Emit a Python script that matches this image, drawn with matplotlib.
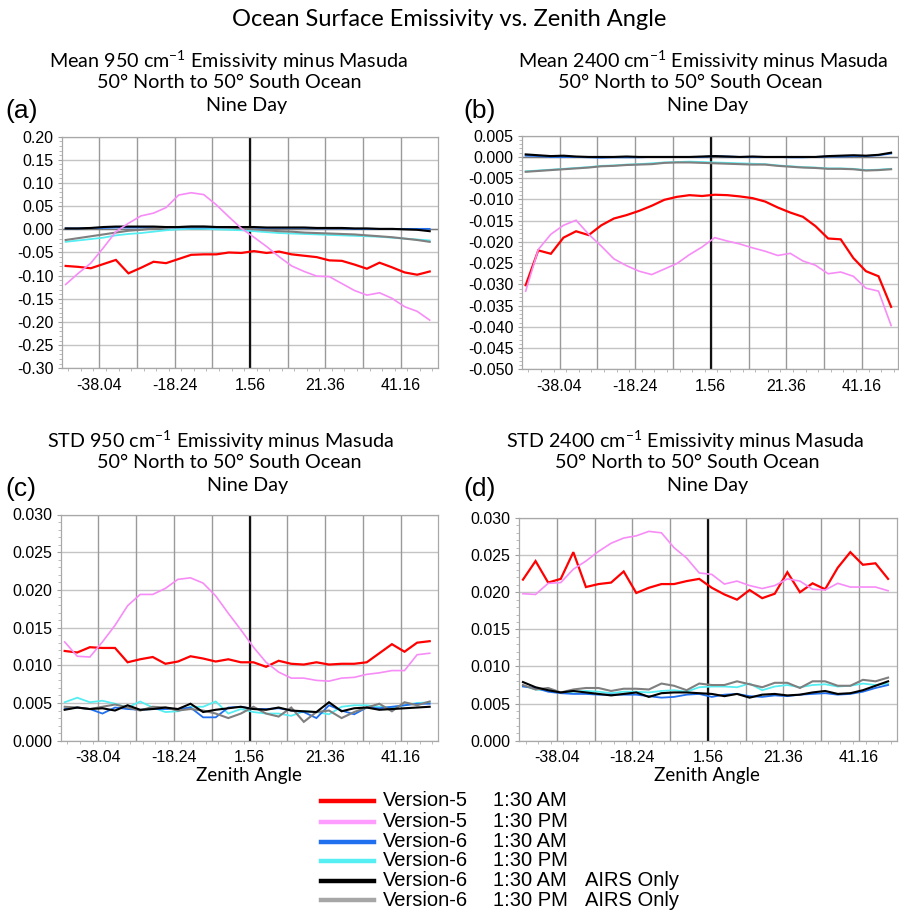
import numpy as np
import matplotlib
matplotlib.use("Agg")
import matplotlib.pyplot as plt
from matplotlib.lines import Line2D
from matplotlib.ticker import FixedLocator, MultipleLocator, FormatStrFormatter, NullFormatter

plt.rcParams['font.family'] = ['Liberation Sans', 'DejaVu Sans']
plt.rcParams['axes.unicode_minus'] = False
plt.rcParams['mathtext.fontset'] = 'custom'
plt.rcParams['mathtext.rm'] = 'Lato'
plt.rcParams['mathtext.it'] = 'Lato'
plt.rcParams['mathtext.bf'] = 'Lato'

# ---------------- data ----------------
angles = [round(-46.9 + 3.3 * i, 2) for i in range(30)]
tick_labels = [-38.04, -18.24, 1.56, 21.36, 41.16]
series_names = ["Version-5", "Version-5", "Version-6", "Version-6", "Version-6", "Version-6"]
series_times = ["1:30 AM", "1:30 PM", "1:30 AM", "1:30 PM", "1:30 AM", "1:30 PM"]
series_notes = ["", "", "", "", "AIRS Only", "AIRS Only"]

# (a) Mean 950 cm-1
a_v5_am = [-0.079, -0.081, -0.084, -0.075, -0.066, -0.095, -0.083, -0.070, -0.073, -0.064,
           -0.055, -0.054, -0.054, -0.050, -0.051, -0.047, -0.051, -0.048, -0.054, -0.057,
           -0.060, -0.067, -0.068, -0.076, -0.085, -0.072, -0.082, -0.093, -0.098, -0.091]
a_v5_pm = [-0.119, -0.095, -0.073, -0.040, -0.005, 0.013, 0.029, 0.035, 0.047, 0.074,
           0.079, 0.075, 0.053, 0.027, 0.002, -0.017, -0.037, -0.059, -0.079, -0.091,
           -0.101, -0.102, -0.117, -0.132, -0.142, -0.137, -0.149, -0.167, -0.177, -0.196]
a_v6_am = [0.002, 0.002, 0.003, 0.003, 0.004, 0.004, 0.004, 0.004, 0.004, 0.004,
           0.004, 0.004, 0.004, 0.004, 0.004, 0.003, 0.003, 0.003, 0.003, 0.003,
           0.002, 0.002, 0.002, 0.001, 0.001, 0.001, 0.001, 0.001, 0.001, 0.001]
a_v6_pm = [-0.027, -0.024, -0.021, -0.018, -0.013, -0.010, -0.008, -0.005, -0.002, 0.000,
           0.001, 0.001, 0.000, -0.001, -0.002, -0.004, -0.006, -0.008, -0.009, -0.010,
           -0.011, -0.012, -0.013, -0.014, -0.015, -0.016, -0.018, -0.020, -0.022, -0.024]
a_airs_am = [0.002, 0.002, 0.003, 0.005, 0.006, 0.006, 0.006, 0.006, 0.005, 0.005,
             0.006, 0.006, 0.005, 0.005, 0.005, 0.005, 0.004, 0.004, 0.004, 0.004,
             0.003, 0.003, 0.003, 0.002, 0.002, 0.001, 0.001, 0.000, -0.001, -0.004]
a_airs_pm = [-0.023, -0.019, -0.015, -0.011, -0.007, -0.003, -0.001, 0.002, 0.004, 0.005,
             0.006, 0.006, 0.005, 0.004, 0.002, 0.000, -0.002, -0.004, -0.005, -0.007,
             -0.008, -0.009, -0.010, -0.011, -0.013, -0.015, -0.017, -0.020, -0.023, -0.027]

# (b) Mean 2400 cm-1
b_v5_am = [-0.0302, -0.0220, -0.0228, -0.0190, -0.0175, -0.0184, -0.0161, -0.0145, -0.0137, -0.0127,
           -0.0115, -0.0101, -0.0094, -0.0090, -0.0092, -0.0089, -0.0090, -0.0093, -0.0097, -0.0105,
           -0.0119, -0.0131, -0.0141, -0.0163, -0.0192, -0.0194, -0.0238, -0.0269, -0.0281, -0.0353]
b_v5_pm = [-0.0316, -0.0218, -0.0182, -0.0161, -0.0149, -0.0182, -0.0210, -0.0240, -0.0256, -0.0269,
           -0.0277, -0.0264, -0.0251, -0.0230, -0.0212, -0.0190, -0.0198, -0.0205, -0.0214, -0.0222,
           -0.0232, -0.0227, -0.0245, -0.0255, -0.0275, -0.0271, -0.0281, -0.0309, -0.0316, -0.0397]
b_v6_am = [0.0003, 0.0002, 0.0000, 0.0000, 0.0000, -0.0001, -0.0002, -0.0001, -0.0001, -0.0001,
           0.0000, 0.0000, 0.0000, 0.0000, 0.0000, 0.0002, 0.0001, 0.0000, 0.0000, 0.0000,
           0.0000, -0.0001, -0.0001, 0.0000, 0.0001, 0.0001, 0.0002, 0.0002, 0.0004, 0.0008]
b_v6_pm = [-0.0034, -0.0032, -0.0030, -0.0028, -0.0026, -0.0024, -0.0021, -0.0020, -0.0018, -0.0017,
           -0.0015, -0.0013, -0.0012, -0.0011, -0.0012, -0.0013, -0.0014, -0.0015, -0.0016, -0.0017,
           -0.0020, -0.0022, -0.0024, -0.0025, -0.0027, -0.0027, -0.0028, -0.0031, -0.0030, -0.0028]
b_airs_am = [0.0006, 0.0004, 0.0002, 0.0003, 0.0001, 0.0000, 0.0000, 0.0000, 0.0001, 0.0000,
             0.0000, 0.0000, 0.0000, 0.0000, 0.0001, 0.0002, 0.0001, 0.0000, 0.0001, 0.0000,
             0.0000, 0.0000, 0.0000, 0.0000, 0.0002, 0.0003, 0.0004, 0.0003, 0.0005, 0.0010]
b_airs_pm = [-0.0035, -0.0033, -0.0031, -0.0029, -0.0027, -0.0025, -0.0022, -0.0021, -0.0019, -0.0018,
             -0.0017, -0.0014, -0.0013, -0.0013, -0.0014, -0.0015, -0.0016, -0.0017, -0.0018, -0.0018,
             -0.0021, -0.0023, -0.0025, -0.0026, -0.0028, -0.0028, -0.0029, -0.0032, -0.0031, -0.0029]

# (c) STD 950 cm-1
c_v5_am = [0.0119, 0.0117, 0.0124, 0.0123, 0.0123, 0.0104, 0.0108, 0.0111, 0.0102, 0.0105,
           0.0112, 0.0109, 0.0105, 0.0108, 0.0104, 0.0104, 0.0098, 0.0106, 0.0102, 0.0101,
           0.0104, 0.0101, 0.0102, 0.0102, 0.0104, 0.0116, 0.0128, 0.0118, 0.0130, 0.0132]
c_v5_pm = [0.0131, 0.0112, 0.0111, 0.0131, 0.0153, 0.0179, 0.0194, 0.0194, 0.0202, 0.0214,
           0.0216, 0.0209, 0.0192, 0.0169, 0.0147, 0.0124, 0.0104, 0.0091, 0.0083, 0.0083,
           0.0080, 0.0079, 0.0083, 0.0084, 0.0088, 0.0090, 0.0093, 0.0093, 0.0114, 0.0116]
c_v6_am = [0.0042, 0.0044, 0.0042, 0.0036, 0.0044, 0.0042, 0.0041, 0.0042, 0.0042, 0.0042,
           0.0044, 0.0031, 0.0031, 0.0044, 0.0045, 0.0042, 0.0042, 0.0043, 0.0040, 0.0038,
           0.0030, 0.0047, 0.0040, 0.0035, 0.0044, 0.0043, 0.0045, 0.0047, 0.0049, 0.0049]
c_v6_pm = [0.0051, 0.0057, 0.0051, 0.0053, 0.0049, 0.0044, 0.0052, 0.0044, 0.0038, 0.0039,
           0.0045, 0.0045, 0.0052, 0.0036, 0.0042, 0.0038, 0.0036, 0.0036, 0.0033, 0.0039,
           0.0038, 0.0035, 0.0045, 0.0047, 0.0047, 0.0045, 0.0044, 0.0047, 0.0050, 0.0051]
c_airs_am = [0.0041, 0.0044, 0.0042, 0.0043, 0.0040, 0.0047, 0.0041, 0.0042, 0.0044, 0.0042,
             0.0049, 0.0038, 0.0041, 0.0043, 0.0045, 0.0042, 0.0041, 0.0044, 0.0040, 0.0039,
             0.0038, 0.0051, 0.0039, 0.0043, 0.0044, 0.0041, 0.0042, 0.0043, 0.0044, 0.0045]
c_airs_pm = [0.0045, 0.0044, 0.0042, 0.0045, 0.0048, 0.0044, 0.0040, 0.0045, 0.0044, 0.0040,
             0.0042, 0.0040, 0.0036, 0.0030, 0.0036, 0.0045, 0.0036, 0.0032, 0.0044, 0.0025,
             0.0038, 0.0040, 0.0030, 0.0038, 0.0044, 0.0049, 0.0039, 0.0051, 0.0047, 0.0052]

# (d) STD 2400 cm-1
d_v5_am = [0.0217, 0.0242, 0.0213, 0.0218, 0.0254, 0.0207, 0.0211, 0.0213, 0.0228, 0.0199,
           0.0206, 0.0211, 0.0211, 0.0215, 0.0218, 0.0206, 0.0197, 0.0190, 0.0203, 0.0192,
           0.0198, 0.0227, 0.0200, 0.0212, 0.0204, 0.0233, 0.0254, 0.0237, 0.0239, 0.0218]
d_v5_pm = [0.0198, 0.0197, 0.0212, 0.0213, 0.0231, 0.0242, 0.0255, 0.0266, 0.0273, 0.0276,
           0.0282, 0.0280, 0.0260, 0.0246, 0.0226, 0.0224, 0.0211, 0.0215, 0.0209, 0.0205,
           0.0209, 0.0218, 0.0215, 0.0204, 0.0203, 0.0212, 0.0207, 0.0207, 0.0207, 0.0202]
d_v6_am = [0.0073, 0.0071, 0.0066, 0.0064, 0.0063, 0.0063, 0.0062, 0.0062, 0.0062, 0.0062,
           0.0060, 0.0058, 0.0059, 0.0062, 0.0063, 0.0059, 0.0062, 0.0063, 0.0060, 0.0059,
           0.0061, 0.0060, 0.0062, 0.0063, 0.0064, 0.0062, 0.0063, 0.0066, 0.0071, 0.0075]
d_v6_pm = [0.0074, 0.0069, 0.0068, 0.0065, 0.0066, 0.0067, 0.0066, 0.0064, 0.0066, 0.0066,
           0.0065, 0.0067, 0.0068, 0.0066, 0.0072, 0.0073, 0.0073, 0.0072, 0.0077, 0.0068,
           0.0073, 0.0075, 0.0072, 0.0075, 0.0076, 0.0073, 0.0074, 0.0077, 0.0075, 0.0077]
d_airs_am = [0.0079, 0.0072, 0.0068, 0.0065, 0.0067, 0.0065, 0.0063, 0.0061, 0.0063, 0.0065,
             0.0059, 0.0064, 0.0065, 0.0065, 0.0064, 0.0063, 0.0060, 0.0063, 0.0058, 0.0062,
             0.0063, 0.0061, 0.0062, 0.0065, 0.0067, 0.0063, 0.0064, 0.0068, 0.0074, 0.0080]
d_airs_pm = [0.0075, 0.0069, 0.0071, 0.0065, 0.0069, 0.0071, 0.0071, 0.0067, 0.0070, 0.0070,
             0.0069, 0.0077, 0.0074, 0.0068, 0.0077, 0.0075, 0.0075, 0.0080, 0.0076, 0.0072,
             0.0078, 0.0078, 0.0071, 0.0080, 0.0080, 0.0074, 0.0074, 0.0082, 0.0080, 0.0085]

# ---------------- styling ----------------
W, H = 899, 919
fig = plt.figure(figsize=(W / 100, H / 100), dpi=100)
fig.patch.set_facecolor('white')

line_colors = ['#ff0000', '#f78cf7', '#1f6fef', '#55eef2', '#000000', '#7f7f7f']
legend_colors = ['#ff0000', '#ff9cff', '#1f6fef', '#55eef2', '#000000', '#a6a6a6']
line_widths = [1.6, 1.2, 1.3, 1.3, 1.5, 1.5]
draw_order = [3, 2, 5, 4, 0, 1]

title_font = 'Lato'

def px_axes(l, r, t, b):
    return fig.add_axes([l / W, 1 - b / H, (r - l) / W, (b - t) / H])

grid_x = [round(1.56 + 9.9 * k, 2) for k in range(-5, 6)]

def setup(ax, ylim, ystep, fmt, xmax, zero_line):
    ax.set_xlim(-47.94, xmax)
    ax.set_ylim(*ylim)
    ax.xaxis.set_major_locator(FixedLocator(grid_x))
    ax.set_xticklabels(['%.2f' % g if g in tick_labels else '' for g in grid_x])
    ax.xaxis.set_minor_locator(MultipleLocator(3.3))
    ax.yaxis.set_major_locator(MultipleLocator(ystep))
    ax.yaxis.set_minor_locator(MultipleLocator(ystep / 5))
    ax.yaxis.set_major_formatter(FormatStrFormatter(fmt))
    ax.tick_params(axis='both', which='major', labelsize=11.5, length=3, color='#a0a0a0',
                   width=0.8, pad=3)
    ax.tick_params(axis='x', which='major', length=0, pad=7)
    ax.tick_params(axis='both', which='minor', length=2, color='#b0b0b0', width=0.6)
    for s in ax.spines.values():
        s.set_color('#a8a8a8')
        s.set_linewidth(0.9)
    for g in grid_x[1:-1]:
        ax.axvline(g, color='#9a9a9a', lw=1.0, zorder=1)
    ax.yaxis.grid(True, color='#c4c4c4', lw=1.0, zorder=1)
    ax.set_axisbelow(True)
    if zero_line:
        ax.axhline(0, color='#7a7a7a', lw=1.0, zorder=1.5)
    ax.axvline(1.56, color='#111111', lw=1.6, zorder=1.6)

def plot_series(ax, data):
    for n, k in enumerate(draw_order):
        ax.plot(angles, data[k], color=line_colors[k], lw=line_widths[k], zorder=3 + n * 0.1,
                solid_joinstyle='miter')

ax_a = px_axes(61.7, 438.3, 136.7, 368.3)
setup(ax_a, (-0.30, 0.20), 0.05, '%.2f', 51.06, True)
plot_series(ax_a, [a_v5_am, a_v5_pm, a_v6_am, a_v6_pm, a_airs_am, a_airs_pm])

ax_b = px_axes(521.7, 898, 135.7, 369.3)
setup(ax_b, (-0.050, 0.005), 0.005, '%.3f', 50.6, True)
plot_series(ax_b, [b_v5_am, b_v5_pm, b_v6_am, b_v6_pm, b_airs_am, b_airs_pm])

ax_c = px_axes(60.7, 438.3, 514.5, 740.7)
setup(ax_c, (0.0, 0.030), 0.005, '%.3f', 51.06, False)
plot_series(ax_c, [c_v5_am, c_v5_pm, c_v6_am, c_v6_pm, c_airs_am, c_airs_pm])

ax_d = px_axes(519, 896.7, 518, 740.7)
setup(ax_d, (0.0, 0.030), 0.005, '%.3f', 51.06, False)
plot_series(ax_d, [d_v5_am, d_v5_pm, d_v6_am, d_v6_pm, d_airs_am, d_airs_pm])

def ftext(x, y, s, **kw):
    fig.text(x / W, 1 - y / H, s, **kw)

ftext(449, 20, 'Ocean Surface Emissivity vs. Zenith Angle', ha='center', va='center',
      fontsize=17, family=title_font)

sub = dict(ha='center', va='center', fontsize=14.2, family=title_font)
ftext(228, 61, 'Mean 950 cm$^{-1}$ Emissivity minus Masuda', **sub)
ftext(229, 83, '50° North to 50° South Ocean', **sub)
ftext(247, 106, 'Nine Day', **sub)
ftext(703, 61, 'Mean 2400 cm$^{-1}$ Emissivity minus Masuda', **sub)
ftext(690, 83, '50° North to 50° South Ocean', **sub)
ftext(708, 106, 'Nine Day', **sub)
ftext(220, 441, 'STD 950 cm$^{-1}$ Emissivity minus Masuda', **sub)
ftext(229, 463, '50° North to 50° South Ocean', **sub)
ftext(248, 485, 'Nine Day', **sub)
ftext(685, 441, 'STD 2400 cm$^{-1}$ Emissivity minus Masuda', **sub)
ftext(687, 463, '50° North to 50° South Ocean', **sub)
ftext(708, 485, 'Nine Day', **sub)

panel = dict(ha='left', va='center', fontsize=19)
ftext(5, 111, '(a)', **panel)
ftext(463, 111, '(b)', **panel)
ftext(5, 489, '(c)', **panel)
ftext(463, 489, '(d)', **panel)

ftext(249, 776, 'Zenith Angle', ha='center', va='center', fontsize=13.5, family=title_font)
ftext(707, 776, 'Zenith Angle', ha='center', va='center', fontsize=13.5, family=title_font)

# legend
row_y = [801, 821.5, 841.5, 861, 880.5, 900]
for k in range(6):
    y = 1 - row_y[k] / H
    fig.add_artist(Line2D([321 / W, 374 / W], [y, y], color=legend_colors[k], lw=3.2,
                          transform=fig.transFigure))
    ftext(383, row_y[k], series_names[k], ha='left', va='center', fontsize=14.5)
    ftext(493, row_y[k], series_times[k], ha='left', va='center', fontsize=14.5)
    if series_notes[k]:
        ftext(585, row_y[k], series_notes[k], ha='left', va='center', fontsize=14.5)

fig.savefig('out.png', dpi=100, facecolor='white')
